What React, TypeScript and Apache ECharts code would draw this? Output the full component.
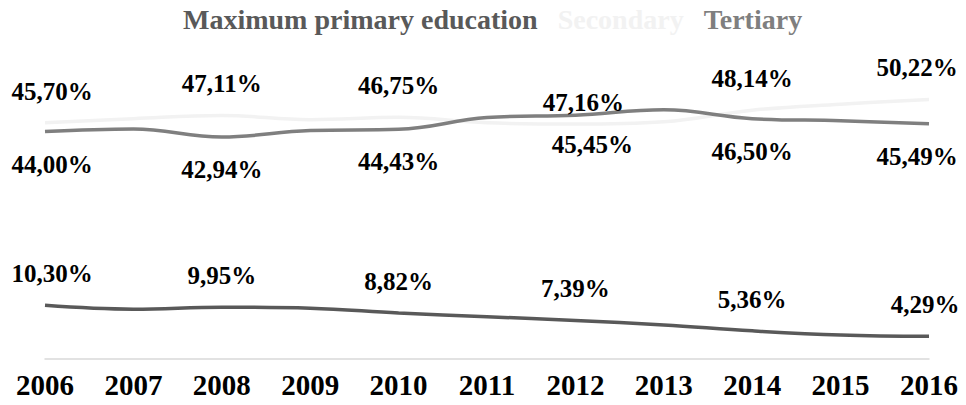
import React, { useEffect, useRef } from "react";
import * as echarts from "echarts";

const years = ["2006", "2007", "2008", "2009", "2010", "2011", "2012", "2013", "2014", "2015", "2016"];
const primary = [10.3, 9.55, 9.95, 9.75, 8.82, 8.1, 7.39, 6.5, 5.36, 4.55, 4.29];
const secondary = [45.7, 46.5, 47.11, 46.3, 46.75, 45.7, 45.45, 45.9, 48.14, 49.3, 50.22];
const tertiary = [44.0, 44.5, 42.94, 44.2, 44.43, 46.7, 47.16, 48.2, 46.5, 46.1, 45.49];

const names = ["Maximum primary education", "Secondary", "Tertiary"];
const colors = ["#595959", "#f2f2f2", "#7f7f7f"];

const FONT = "Liberation Serif";

const fmt = (v: number) => v.toFixed(2).replace(".", ",") + "%";

const labelBase = {
  color: "#000",
  fontFamily: FONT,
  fontWeight: "bold" as const,
  fontSize: 25,
  formatter: (p: any) => fmt(p.value),
};

function xShift(i: number, last: number) {
  if (i === 0) return 7;
  if (i === 10) return last;
  return 0;
}

function buildData(vals: number[], kind: string) {
  return vals.map((v, i) => {
    const show = i % 2 === 0;
    let position: string = "top";
    let distance = 19;
    let dx = xShift(i, kind === "p" ? -4 : -12);
    if (kind === "t") {
      position = "bottom";
      distance = 20;
      if (i === 6) {
        position = "top";
        distance = 0;
        dx = 8;
      }
    }
    if (kind === "s" && i === 6) {
      position = "bottom";
      distance = 8;
      dx = 17;
    }
    return {
      value: v,
      label: { ...labelBase, show, position, distance, offset: [dx, 0] },
    };
  });
}

export default function App() {
  const ref = useRef<HTMLDivElement>(null);
  useEffect(() => {
    if (!ref.current) return;
    const chart = echarts.init(ref.current, undefined, { renderer: "svg" });
    const mk = (idx: number, vals: number[], kind: string) => ({
      name: names[idx],
      type: "line",
      data: buildData(vals, kind),
      smooth: 0.4,
      symbol: "circle",
      symbolSize: 0.1,
      lineStyle: { color: colors[idx], width: 3.5 },
      itemStyle: { color: colors[idx] },
      emphasis: { disabled: true },
    });
    chart.setOption({
      animation: false,
      legend: {
        top: 0,
        left: 173,
        itemWidth: 0,
        itemHeight: 0,
        itemGap: 15,
        icon: "rect",
        textStyle: {
          fontFamily: FONT,
          fontWeight: "bold",
          fontSize: 28,
        },
        data: names.map((n, i) => ({ name: n, textStyle: { color: colors[i] } })),
      },
      grid: { left: 45, right: 37, top: 49, bottom: 46.5 },
      xAxis: {
        type: "category",
        data: years,
        boundaryGap: false,
        axisLine: { lineStyle: { color: "#d9d9d9", width: 1.5 } },
        axisTick: { show: false },
        axisLabel: {
          color: "#000",
          fontFamily: FONT,
          fontWeight: "bold",
          fontSize: 29,
          margin: 12,
        },
      },
      yAxis: {
        type: "value",
        min: 0,
        max: 60,
        show: false,
        splitLine: { show: false },
      },
      series: [mk(1, secondary, "s"), mk(2, tertiary, "t"), mk(0, primary, "p")],
    });
    return () => chart.dispose();
  }, []);
  return (
    <div
      ref={ref}
      style={{ position: "fixed", left: 0, top: 0, width: 966, height: 405, background: "#fff" }}
    />
  );
}
